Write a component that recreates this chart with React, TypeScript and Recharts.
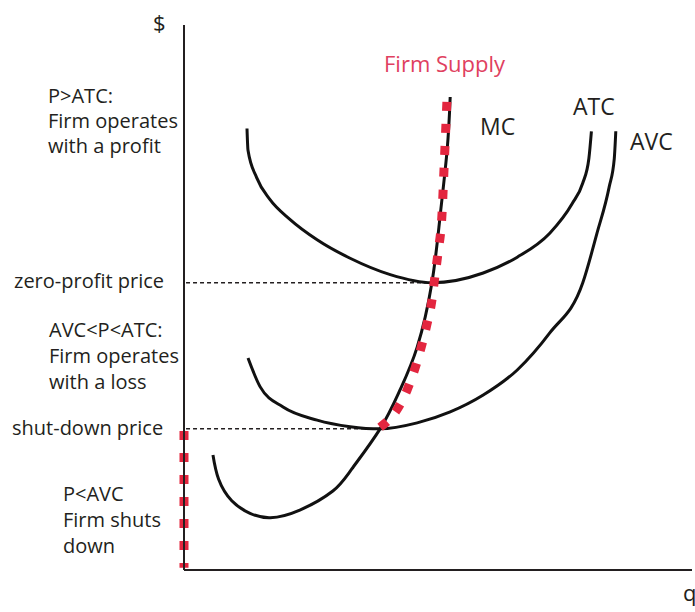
import React from "react";
import { LineChart, Line, XAxis, YAxis } from "recharts";

// Curves: q (quantity) on 0..10, p ($) on 0..10
const atcCurve = [
  { q: 1.24, p: 8.1 }, { q: 1.26, p: 7.7 }, { q: 1.43, p: 7.2 }, { q: 1.69, p: 6.8 },
  { q: 2.09, p: 6.43 }, { q: 2.62, p: 6.06 }, { q: 3.27, p: 5.72 }, { q: 4.06, p: 5.42 },
  { q: 4.88, p: 5.27 }, { q: 5.89, p: 5.45 }, { q: 6.56, p: 5.74 }, { q: 7.2, p: 6.18 },
  { q: 7.64, p: 6.72 }, { q: 7.85, p: 7.1 }, { q: 7.97, p: 7.55 }, { q: 8.02, p: 8.05 },
];

const avcCurve = [
  { q: 1.26, p: 3.89 }, { q: 1.5, p: 3.36 }, { q: 1.95, p: 2.99 }, { q: 2.62, p: 2.75 },
  { q: 3.27, p: 2.63 }, { q: 3.86, p: 2.59 }, { q: 4.59, p: 2.7 }, { q: 5.24, p: 2.9 },
  { q: 5.89, p: 3.21 }, { q: 6.56, p: 3.67 }, { q: 7.2, p: 4.35 }, { q: 7.85, p: 5.27 },
  { q: 8.13, p: 6.18 }, { q: 8.37, p: 7.03 }, { q: 8.47, p: 7.55 }, { q: 8.5, p: 8.05 },
];

const mcCurve = [
  { q: 0.57, p: 2.11 }, { q: 0.68, p: 1.67 }, { q: 0.94, p: 1.27 }, { q: 1.3, p: 1.04 },
  { q: 1.7, p: 0.96 }, { q: 2.28, p: 1.1 }, { q: 2.93, p: 1.45 }, { q: 3.3, p: 1.85 },
  { q: 3.86, p: 2.59 }, { q: 4.25, p: 3.3 }, { q: 4.59, p: 4.09 }, { q: 4.88, p: 5.27 },
  { q: 5.04, p: 6.48 }, { q: 5.18, p: 7.71 }, { q: 5.24, p: 8.68 },
];

const supplyAlongMc = [
  { q: 3.86, p: 2.62 }, { q: 4.19, p: 2.94 }, { q: 4.39, p: 3.3 }, { q: 4.55, p: 3.71 },
  { q: 4.67, p: 4.09 }, { q: 4.78, p: 4.5 }, { q: 4.88, p: 4.95 }, { q: 4.93, p: 5.32 },
  { q: 5.0, p: 5.82 }, { q: 5.08, p: 6.55 }, { q: 5.12, p: 7.39 }, { q: 5.16, p: 8.26 },
  { q: 5.18, p: 8.7 },
];

const supplyShutdown = [
  { q: 0, p: 2.55 }, { q: 0, p: 0.04 },
];

const zeroProfitLine = [
  { q: 0.04, p: 5.27 }, { q: 4.88, p: 5.27 },
];

const shutdownLine = [
  { q: 0.04, p: 2.59 }, { q: 3.86, p: 2.59 },
];

const profitText = ["P>ATC:", "Firm operates", "with a profit"];
const lossText = ["AVC<P<ATC:", "Firm operates", "with a loss"];
const shutText = ["P<AVC", "Firm shuts", "down"];

const FONT = "'Open Sans', sans-serif";
const INK = "#231f20";
const RED = "#e3263f";

function Block({ x, y, lines, step }: { x: number; y: number; lines: string[]; step: number }) {
  return (
    <text x={x} y={y} fontFamily={FONT} fontSize={20} fill={INK}>
      {lines.map((l, i) => (
        <tspan key={i} x={x} y={y + i * step}>
          {l}
        </tspan>
      ))}
    </text>
  );
}

export default function App() {
  return (
    <div style={{ width: 695, height: 612, background: "#fff" }}>
      <style>{`body{margin:0}`}</style>
      <LineChart
        width={695}
        height={612}
        margin={{ top: 25, left: 4, right: 3, bottom: 2 }}
      >
        <XAxis
          dataKey="q"
          type="number"
          domain={[0, 10]}
          height={40}
          tick={false}
          tickLine={false}
          axisLine={{ stroke: INK, strokeWidth: 2 }}
        />
        <YAxis
          type="number"
          domain={[0, 10]}
          width={180}
          tick={false}
          tickLine={false}
          axisLine={{ stroke: INK, strokeWidth: 2 }}
        />
        <Line data={zeroProfitLine} dataKey="p" type="linear" stroke={INK} strokeWidth={1.5} strokeDasharray="4 3" dot={false} activeDot={false} isAnimationActive={false} />
        <Line data={shutdownLine} dataKey="p" type="linear" stroke={INK} strokeWidth={1.5} strokeDasharray="4 3" dot={false} activeDot={false} isAnimationActive={false} />
        <Line data={atcCurve} dataKey="p" type="monotone" stroke="#111" strokeWidth={3} dot={false} activeDot={false} isAnimationActive={false} />
        <Line data={avcCurve} dataKey="p" type="monotone" stroke="#111" strokeWidth={3} dot={false} activeDot={false} isAnimationActive={false} />
        <Line data={mcCurve} dataKey="p" type="natural" stroke="#111" strokeWidth={3} dot={false} activeDot={false} isAnimationActive={false} />
        <Line data={supplyAlongMc} dataKey="p" type="monotone" stroke={RED} strokeWidth={9} strokeDasharray="9 13" dot={false} activeDot={false} isAnimationActive={false} />
        <Line data={supplyShutdown} dataKey="p" type="linear" stroke={RED} strokeWidth={9} strokeDasharray="9 13" dot={false} activeDot={false} isAnimationActive={false} />
        <g>
          <text x={153} y={31} fontFamily={FONT} fontSize={22} fill={INK}>$</text>
          <text x={683} y={601} fontFamily={FONT} fontSize={22} fill={INK}>q</text>
          <Block x={48} y={103} lines={profitText} step={25} />
          <text x={14} y={288} fontFamily={FONT} fontSize={20} fill={INK}>zero-profit price</text>
          <Block x={49} y={337} lines={lossText} step={26} />
          <text x={12} y={435} fontFamily={FONT} fontSize={20} fill={INK}>shut-down price</text>
          <Block x={63} y={501} lines={shutText} step={26} />
          <text x={384} y={72} fontFamily={FONT} fontSize={22} fill="#e04060">Firm Supply</text>
          <text x={480} y={135} fontFamily={FONT} fontSize={23} fill={INK}>MC</text>
          <text x={573} y={115} fontFamily={FONT} fontSize={23} fill={INK}>ATC</text>
          <text x={630} y={150} fontFamily={FONT} fontSize={23} fill={INK}>AVC</text>
        </g>
      </LineChart>
    </div>
  );
}
